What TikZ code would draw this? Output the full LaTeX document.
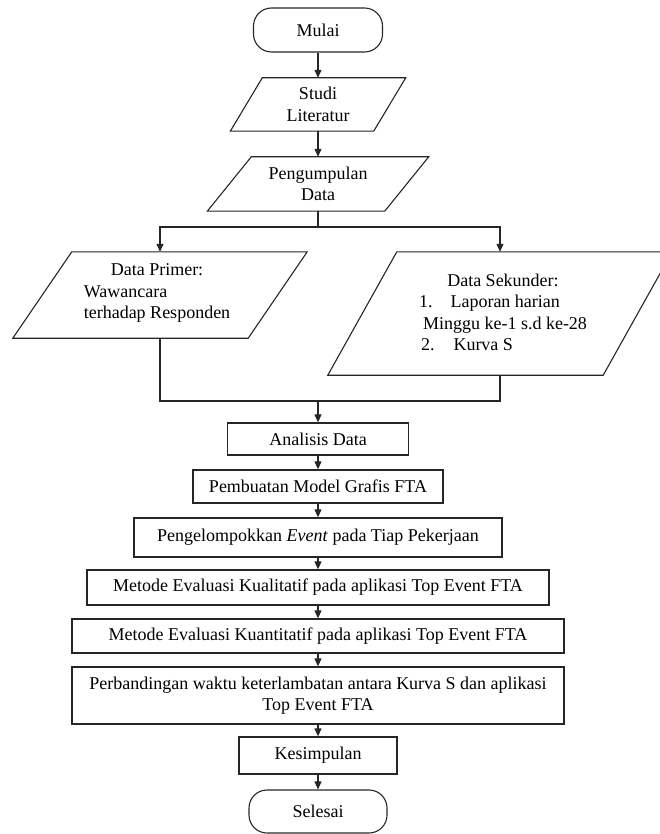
\documentclass[tikz,border=0pt]{standalone}
\usepackage{fontspec}
\setmainfont{Liberation Serif}
\usetikzlibrary{arrows.meta,calc}
\begin{document}
\begin{tikzpicture}[x=1pt,y=-1pt,
  every node/.style={font=\fontsize{18}{21.5}\selectfont, text=black},
  conn/.style={draw=black!85, line width=1.1pt, -{Triangle[width=7pt,length=8pt]}},
  plain/.style={draw=black!85, line width=1.1pt},
  procbox/.style={draw=black!85, line width=1.3pt, rectangle, inner sep=0pt, align=center},
  termbox/.style={draw=black!85, line width=1.1pt, rectangle, rounded corners=18pt, inner sep=0pt},
  iobox/.style={rectangle, inner sep=0pt, draw=none, align=center},
  iooutline/.style={draw=black!85, line width=1.1pt, line join=miter},
]
\useasboundingbox (0,0) rectangle (660,834);
\clip (0,0) rectangle (660,834);

% terminals
\node[termbox, minimum width=129pt, minimum height=44pt] (mulai) at (318,30) {Mulai};
\node[termbox, minimum width=138pt, minimum height=43pt] (selesai) at (318,811.5) {Selesai};

% parallelograms (rectangle = edge length x height; outline drawn with skew)
\node[iobox, minimum width=143pt, minimum height=53pt] (studi) at (318,104.5) {Studi\\Literatur};
\node[iobox, minimum width=177pt, minimum height=54pt] (kumpul) at (318,184) {Pengumpulan\\Data};
\node[iobox, minimum width=235pt, minimum height=86pt] (primer) at (160,295) {};
\node[iobox, minimum width=275pt, minimum height=123pt] (sekunder) at (500,313.5) {};

\newcommand{\paraoutline}[2]{%
  \draw[iooutline] ($(#1.south west)+(-#2/2,0)$) -- ($(#1.south east)+(-#2/2,0)$)
     -- ($(#1.north east)+(#2/2,0)$) -- ($(#1.north west)+(#2/2,0)$) -- cycle;}
\paraoutline{studi}{32}
\paraoutline{kumpul}{44}
\paraoutline{primer}{59}
\paraoutline{sekunder}{69}

\node[inner sep=0pt] (primertext) at (157,293) {\begin{tabular}{@{}l@{}}
\multicolumn{1}{@{}c@{}}{Data Primer:}\\
Wawancara\\
terhadap Responden
\end{tabular}};
\node[inner sep=0pt] (sekundertext) at (503,314) {\begin{tabular}{@{}l@{}}
\multicolumn{1}{@{}c@{}}{Data Sekunder:}\\
1.\hspace{18pt}Laporan harian\\
\hspace{4pt}Minggu ke-1 s.d ke-28\\
\hspace{2pt}2.\hspace{19pt}Kurva S
\end{tabular}};

% process boxes
\node[procbox, minimum width=181pt, minimum height=32pt] (analisis) at (318,439) {Analisis Data};
\node[procbox, minimum width=250pt, minimum height=33pt] (model) at (318,486.5) {Pembuatan Model Grafis FTA};
\node[procbox, minimum width=368pt, minimum height=39pt] (kelompok) at (318,537.5) {Pengelompokkan \textit{Event} pada Tiap Pekerjaan};
\node[procbox, minimum width=462pt, minimum height=35pt] (kualitatif) at (318,587.5) {Metode Evaluasi Kualitatif pada aplikasi Top Event FTA};
\node[procbox, minimum width=492pt, minimum height=34pt] (kuantitatif) at (318,636) {Metode Evaluasi Kuantitatif pada aplikasi Top Event FTA};
\node[procbox, minimum width=492pt, minimum height=57pt] (banding) at (318,695.5) {Perbandingan waktu keterlambatan antara Kurva S dan aplikasi\\Top Event FTA};
\node[procbox, minimum width=158pt, minimum height=37pt] (simpul) at (318,755.5) {Kesimpulan};

% connectors
\coordinate (split) at (318,227);
\coordinate (merge) at (318,401);

\draw[conn] (mulai) -- (studi);
\draw[conn] (studi) -- (kumpul);
\draw[conn] (kumpul.south) -- (split) -| (primer.north);
\draw[conn] (split) -| (sekunder.north);
\draw[plain] (primer.south) |- (merge);
\draw[plain] (sekunder.south) |- (merge);
\draw[conn] (merge) -- (analisis);
\draw[conn] (analisis) -- (model);
\draw[conn] (model) -- (kelompok);
\draw[conn] (kelompok) -- (kualitatif);
\draw[conn] (kualitatif) -- (kuantitatif);
\draw[conn] (kuantitatif) -- (banding);
\draw[conn] (banding) -- (simpul);
\draw[conn] (simpul) -- (selesai);
\end{tikzpicture}
\end{document}
